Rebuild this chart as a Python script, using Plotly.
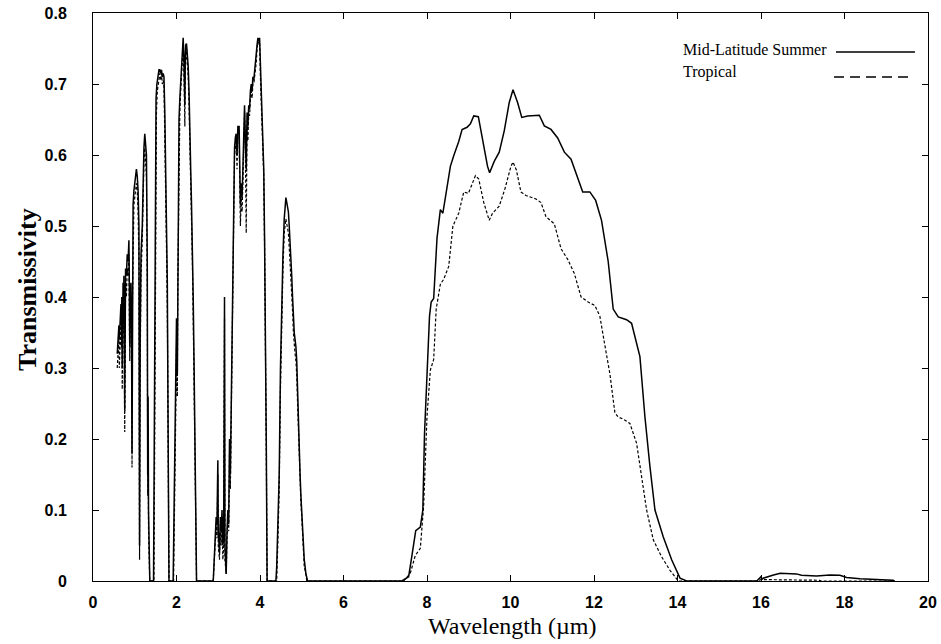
import plotly.graph_objects as go

# ---------------- data ----------------
mls_wl = [
    0.58, 0.60, 0.62, 0.63, 0.65, 0.67, 0.68, 0.69, 0.70, 0.71, 0.72, 0.73, 0.74, 0.76, 0.77, 0.78,
    0.80, 0.82, 0.84, 0.86, 0.87, 0.88, 0.89, 0.91, 0.92, 0.935, 0.94, 0.96, 0.98, 1.00, 1.02, 1.04,
    1.06, 1.08, 1.10, 1.115, 1.13, 1.15, 1.18, 1.20, 1.22, 1.24, 1.26, 1.28, 1.30, 1.31, 1.32, 1.33,
    1.35, 1.36, 1.45, 1.47, 1.49, 1.51, 1.53, 1.56, 1.58, 1.60, 1.62, 1.64, 1.66, 1.68, 1.70, 1.72,
    1.74, 1.76, 1.78, 1.80, 1.82, 1.92, 1.94, 1.96, 1.98, 2.00, 2.02, 2.03, 2.04, 2.05, 2.06, 2.08,
    2.10, 2.12, 2.14, 2.16, 2.18, 2.20, 2.21, 2.22, 2.24, 2.26, 2.28, 2.30, 2.32, 2.34, 2.36, 2.38,
    2.40, 2.42, 2.44, 2.46, 2.48, 2.88, 2.92, 2.95, 2.97, 2.99, 3.00, 3.03, 3.05, 3.07, 3.09, 3.11,
    3.13, 3.15, 3.16, 3.19, 3.21, 3.23, 3.25, 3.27, 3.29, 3.31, 3.33, 3.35, 3.37, 3.39, 3.41, 3.43,
    3.45, 3.47, 3.50, 3.52, 3.53, 3.55, 3.57, 3.59, 3.61, 3.63, 3.65, 3.67, 3.69, 3.71, 3.73, 3.75,
    3.77, 3.79, 3.81, 3.83, 3.85, 3.87, 3.89, 3.91, 3.93, 3.95, 3.97, 3.99, 4.01, 4.03, 4.06, 4.09,
    4.11, 4.13, 4.15, 4.17, 4.38, 4.40, 4.43, 4.46, 4.49, 4.52, 4.55, 4.58, 4.60, 4.62, 4.65, 4.68,
    4.70, 4.72, 4.74, 4.76, 4.78, 4.80, 4.82, 4.84, 4.86, 4.88, 4.90, 4.92, 4.94, 4.96, 4.98, 5.00,
    5.02, 5.04, 5.06, 5.10, 5.14, 7.40, 7.56, 7.64, 7.73, 7.84, 7.90, 7.94, 8.00, 8.06, 8.10, 8.16,
    8.24, 8.32, 8.38, 8.46, 8.56, 8.64, 8.76, 8.84, 8.96, 9.04, 9.12, 9.23, 9.33, 9.45, 9.50, 9.61,
    9.73, 9.85, 9.97, 10.06, 10.17, 10.27, 10.41, 10.69, 10.81, 10.97, 11.13, 11.29, 11.45, 11.61, 11.73, 11.90,
    12.04, 12.18, 12.34, 12.46, 12.58, 12.78, 12.90, 13.10, 13.22, 13.34, 13.46, 13.66, 13.86, 14.06, 14.22, 15.90,
    16.00, 16.02, 16.05, 16.30, 16.46, 16.85, 16.97, 17.33, 17.65, 17.89, 18.05, 18.37, 18.85, 19.16, 19.20,
]
mls_tr = [
    0.32, 0.35, 0.36, 0.34, 0.38, 0.39, 0.36, 0.40, 0.30, 0.41, 0.42, 0.38, 0.43, 0.24, 0.42, 0.44,
    0.43, 0.46, 0.45, 0.48, 0.42, 0.33, 0.40, 0.42, 0.38, 0.18, 0.40, 0.53, 0.55, 0.56, 0.57, 0.58,
    0.57, 0.55, 0.50, 0.05, 0.35, 0.46, 0.50, 0.58, 0.61, 0.63, 0.61, 0.60, 0.45, 0.15, 0.26, 0.10,
    0.02, 0.00, 0.00, 0.25, 0.55, 0.68, 0.70, 0.71, 0.72, 0.72, 0.715, 0.72, 0.71, 0.715, 0.71, 0.66,
    0.59, 0.50, 0.42, 0.20, 0.00, 0.00, 0.08, 0.19, 0.30, 0.37, 0.29, 0.44, 0.50, 0.58, 0.65, 0.68,
    0.70, 0.72, 0.74, 0.765, 0.73, 0.67, 0.74, 0.755, 0.757, 0.74, 0.725, 0.69, 0.65, 0.58, 0.53, 0.48,
    0.40, 0.31, 0.17, 0.06, 0.00, 0.00, 0.05, 0.09, 0.08, 0.17, 0.07, 0.04, 0.09, 0.07, 0.10, 0.05,
    0.06, 0.40, 0.05, 0.01, 0.07, 0.10, 0.08, 0.20, 0.15, 0.24, 0.32, 0.43, 0.55, 0.61, 0.625, 0.63,
    0.60, 0.64, 0.64, 0.58, 0.53, 0.56, 0.54, 0.58, 0.62, 0.67, 0.62, 0.58, 0.66, 0.64, 0.67, 0.665,
    0.69, 0.70, 0.69, 0.71, 0.705, 0.72, 0.73, 0.74, 0.755, 0.765, 0.76, 0.765, 0.72, 0.68, 0.63, 0.58,
    0.48, 0.36, 0.20, 0.00, 0.00, 0.02, 0.08, 0.15, 0.30, 0.40, 0.46, 0.51, 0.53, 0.54, 0.53, 0.52,
    0.50, 0.48, 0.45, 0.43, 0.40, 0.36, 0.35, 0.34, 0.33, 0.31, 0.26, 0.22, 0.18, 0.15, 0.12, 0.10,
    0.07, 0.05, 0.03, 0.01, 0.00, 0.00, 0.006, 0.036, 0.071, 0.076, 0.10, 0.207, 0.292, 0.373, 0.393, 0.398,
    0.483, 0.523, 0.518, 0.55, 0.584, 0.599, 0.619, 0.636, 0.639, 0.644, 0.655, 0.654, 0.624, 0.584, 0.575, 0.591,
    0.604, 0.634, 0.674, 0.692, 0.674, 0.653, 0.655, 0.656, 0.641, 0.636, 0.624, 0.604, 0.594, 0.569, 0.548, 0.548,
    0.536, 0.508, 0.45, 0.383, 0.372, 0.368, 0.363, 0.316, 0.231, 0.161, 0.10, 0.062, 0.030, 0.004, 0.00, 0.00,
    0.006, 0.002, 0.004, 0.0085, 0.011, 0.010, 0.008, 0.007, 0.0085, 0.008, 0.005, 0.003, 0.002, 0.001, 0.00,
]

trop_wl = [
    0.58, 0.60, 0.62, 0.63, 0.65, 0.67, 0.68, 0.69, 0.70, 0.71, 0.72, 0.73, 0.74, 0.76, 0.77, 0.78,
    0.80, 0.82, 0.84, 0.86, 0.87, 0.88, 0.89, 0.91, 0.92, 0.935, 0.94, 0.96, 0.98, 1.00, 1.02, 1.04,
    1.06, 1.08, 1.10, 1.115, 1.13, 1.15, 1.18, 1.20, 1.22, 1.24, 1.26, 1.28, 1.30, 1.31, 1.32, 1.33,
    1.35, 1.36, 1.46, 1.48, 1.50, 1.52, 1.54, 1.56, 1.58, 1.60, 1.62, 1.64, 1.66, 1.68, 1.70, 1.72,
    1.74, 1.76, 1.78, 1.80, 1.82, 1.93, 1.95, 1.97, 1.99, 2.00, 2.02, 2.03, 2.04, 2.05, 2.06, 2.08,
    2.10, 2.12, 2.14, 2.16, 2.18, 2.20, 2.21, 2.22, 2.24, 2.26, 2.28, 2.30, 2.32, 2.34, 2.36, 2.38,
    2.40, 2.42, 2.44, 2.46, 2.48, 2.88, 2.92, 2.95, 2.97, 2.99, 3.00, 3.03, 3.05, 3.07, 3.09, 3.11,
    3.13, 3.15, 3.16, 3.19, 3.21, 3.23, 3.25, 3.27, 3.29, 3.31, 3.33, 3.35, 3.37, 3.39, 3.41, 3.43,
    3.45, 3.47, 3.50, 3.52, 3.53, 3.55, 3.57, 3.59, 3.61, 3.63, 3.65, 3.67, 3.69, 3.71, 3.73, 3.75,
    3.77, 3.79, 3.81, 3.83, 3.85, 3.87, 3.89, 3.91, 3.93, 3.95, 3.97, 3.99, 4.01, 4.03, 4.06, 4.09,
    4.11, 4.13, 4.15, 4.17, 4.40, 4.43, 4.46, 4.49, 4.52, 4.55, 4.58, 4.60, 4.62, 4.65, 4.68,
    4.70, 4.72, 4.74, 4.76, 4.78, 4.80, 4.82, 4.84, 4.86, 4.88, 4.90, 4.92, 4.94, 4.96, 4.98, 5.00,
    5.02, 5.04, 5.06, 5.10, 5.12, 7.44, 7.60, 7.72, 7.84, 7.92, 8.00, 8.08, 8.16, 8.22, 8.32, 8.40,
    8.52, 8.62, 8.76, 8.88, 8.99, 9.04, 9.16, 9.24, 9.36, 9.49, 9.57, 9.73, 9.87, 10.01, 10.06, 10.14,
    10.25, 10.37, 10.61, 10.73, 10.85, 11.05, 11.21, 11.37, 11.53, 11.69, 11.86, 12.02, 12.14, 12.26, 12.38, 12.50,
    12.58, 12.70, 12.86, 13.02, 13.14, 13.26, 13.42, 13.62, 13.82, 14.02, 15.90, 16.00, 17.40, 17.45, 19.20,
]
trop_tr = [
    0.30, 0.33, 0.34, 0.30, 0.36, 0.37, 0.33, 0.38, 0.27, 0.39, 0.40, 0.35, 0.41, 0.21, 0.40, 0.42,
    0.40, 0.44, 0.43, 0.46, 0.38, 0.31, 0.38, 0.40, 0.35, 0.16, 0.37, 0.50, 0.53, 0.54, 0.55, 0.56,
    0.55, 0.52, 0.45, 0.03, 0.30, 0.43, 0.48, 0.55, 0.59, 0.61, 0.59, 0.57, 0.40, 0.12, 0.22, 0.07,
    0.01, 0.00, 0.00, 0.22, 0.52, 0.66, 0.69, 0.70, 0.71, 0.715, 0.705, 0.715, 0.70, 0.705, 0.70, 0.64,
    0.56, 0.47, 0.38, 0.15, 0.00, 0.00, 0.07, 0.17, 0.27, 0.33, 0.26, 0.41, 0.47, 0.55, 0.62, 0.66,
    0.69, 0.71, 0.73, 0.755, 0.71, 0.64, 0.72, 0.745, 0.75, 0.73, 0.71, 0.67, 0.62, 0.56, 0.50, 0.45,
    0.37, 0.28, 0.15, 0.05, 0.00, 0.00, 0.04, 0.08, 0.06, 0.15, 0.05, 0.03, 0.08, 0.05, 0.09, 0.03,
    0.05, 0.37, 0.03, 0.01, 0.06, 0.09, 0.07, 0.18, 0.13, 0.22, 0.30, 0.41, 0.53, 0.60, 0.61, 0.62,
    0.58, 0.63, 0.63, 0.55, 0.50, 0.54, 0.52, 0.56, 0.60, 0.66, 0.60, 0.49, 0.64, 0.62, 0.66, 0.655,
    0.68, 0.69, 0.68, 0.70, 0.70, 0.71, 0.72, 0.73, 0.75, 0.76, 0.755, 0.76, 0.71, 0.67, 0.62, 0.57,
    0.47, 0.35, 0.19, 0.00, 0.00, 0.06, 0.13, 0.27, 0.38, 0.44, 0.49, 0.50, 0.51, 0.50, 0.49,
    0.47, 0.45, 0.43, 0.41, 0.38, 0.35, 0.33, 0.32, 0.31, 0.29, 0.25, 0.21, 0.17, 0.14, 0.11, 0.09,
    0.06, 0.04, 0.02, 0.01, 0.00, 0.00, 0.011, 0.036, 0.046, 0.106, 0.232, 0.297, 0.312, 0.383, 0.418, 0.425,
    0.443, 0.50, 0.518, 0.548, 0.546, 0.553, 0.571, 0.566, 0.533, 0.508, 0.518, 0.528, 0.553, 0.584, 0.590, 0.579,
    0.548, 0.543, 0.538, 0.533, 0.513, 0.503, 0.468, 0.453, 0.433, 0.40, 0.393, 0.388, 0.373, 0.332, 0.292, 0.237,
    0.231, 0.228, 0.222, 0.194, 0.147, 0.10, 0.058, 0.034, 0.015, 0.00, 0.00, 0.002, 0.001, 0.00, 0.00,
]

x_ticks = [0, 2, 4, 6, 8, 10, 12, 14, 16, 18, 20]
y_ticks = [0, 0.1, 0.2, 0.3, 0.4, 0.5, 0.6, 0.7, 0.8]
y_tick_text = ["0", "0.1", "0.2", "0.3", "0.4", "0.5", "0.6", "0.7", "0.8"]
series_names = ["Mid-Latitude Summer", "Tropical"]

# ---------------- figure ----------------
fig = go.Figure()
fig.add_trace(go.Scatter(x=trop_wl, y=trop_tr, mode="lines", name=series_names[1],
                         line=dict(color="black", width=1.2, dash="3px,2px"), showlegend=False))
fig.add_trace(go.Scatter(x=mls_wl, y=mls_tr, mode="lines", name=series_names[0],
                         line=dict(color="black", width=1.5), showlegend=False))

W, H = 941, 644
L, R, T, B = 93, 13, 13, 63
pw, ph = W - L - R, H - T - B


def px2x(px):
    return (px - L) / pw


def py2y(py):
    return (H - B - py) / ph


axis_common = dict(showline=True, linecolor="black", linewidth=1, mirror="ticks",
                   ticks="inside", ticklen=6, tickcolor="black", tickwidth=1,
                   showgrid=False, zeroline=False, automargin=False,
                   tickfont=dict(family="Liberation Sans, Arial", size=16, color="black", weight="bold"))

fig.update_xaxes(range=[0, 20], tickvals=x_ticks, ticklabelstandoff=7, **axis_common)
fig.update_yaxes(range=[0, 0.8], tickvals=y_ticks, ticktext=y_tick_text, ticklabelstandoff=22, **axis_common)

# axis titles
fig.add_annotation(x=px2x(512), y=py2y(626), xref="paper", yref="paper", text="Wavelength (µm)",
                   showarrow=False, xanchor="center", yanchor="middle",
                   font=dict(family="Liberation Serif, Times New Roman", size=24, color="black"))
fig.add_annotation(x=px2x(27), y=py2y(290), xref="paper", yref="paper", text="<b>Transmissivity</b>",
                   showarrow=False, xanchor="center", yanchor="middle", textangle=-90,
                   font=dict(family="Liberation Serif, Times New Roman", size=26, color="black"))

# legend drawn as text on the left, line samples on the right (as in the reference)
leg_font = dict(family="Liberation Serif, Times New Roman", size=16, color="black")
fig.add_annotation(x=px2x(829), y=py2y(49), xref="paper", yref="paper", text=series_names[0],
                   showarrow=False, xanchor="right", yanchor="middle", font=leg_font)
fig.add_annotation(x=px2x(681), y=py2y(72), xref="paper", yref="paper", text=series_names[1],
                   showarrow=False, xanchor="left", yanchor="middle", font=leg_font)
fig.add_shape(type="line", xref="paper", yref="paper", x0=px2x(836), x1=px2x(915), y0=py2y(52), y1=py2y(52),
              line=dict(color="black", width=1.5))
fig.add_shape(type="line", xref="paper", yref="paper", x0=px2x(834), x1=px2x(913), y0=py2y(77), y1=py2y(77),
              line=dict(color="black", width=1.5, dash="10px,6px"))

fig.update_layout(width=W, height=H, margin=dict(l=L, r=R, t=T, b=B),
                  plot_bgcolor="white", paper_bgcolor="white", showlegend=False)

fig.write_html("out.html")
